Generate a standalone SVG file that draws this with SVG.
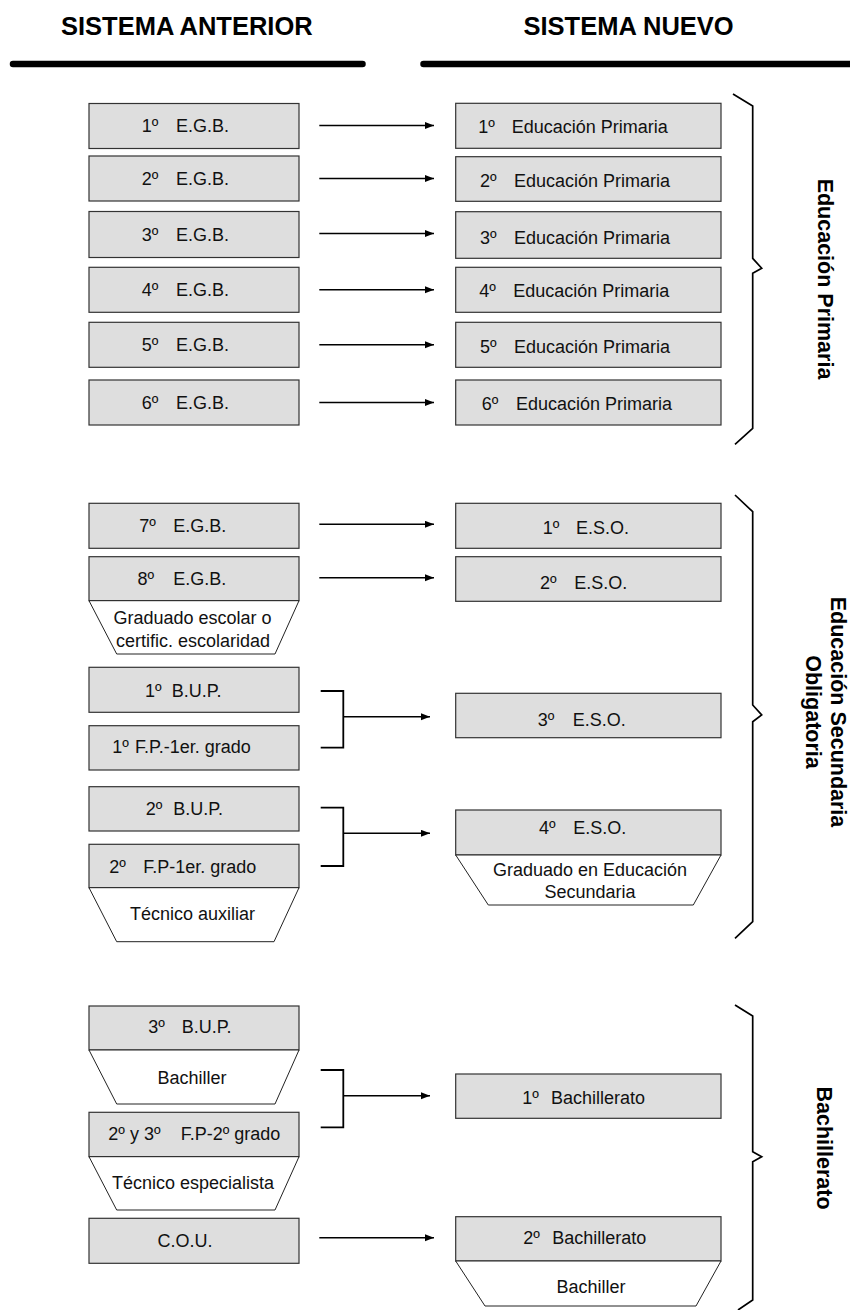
<svg xmlns="http://www.w3.org/2000/svg" width="850" height="1310" viewBox="0 0 850 1310">
<style>
.box{fill:#dedede;stroke:#333;stroke-width:1.2}
.trap{fill:#fff;stroke:#222;stroke-width:1}
text{font-family:"Liberation Sans",Arial,sans-serif;fill:#111}
.t{font-size:18px}
.c{text-anchor:middle}
.h{font-size:25.5px;font-weight:bold;fill:#000}
.v{font-size:21.5px;font-weight:bold;fill:#000;text-anchor:middle}
.conn{stroke:#000;stroke-width:1.5;fill:none}
.brk{stroke:#000;stroke-width:1.8;fill:none}
.brace{stroke:#000;stroke-width:1.7;fill:none;stroke-linejoin:miter}
.rule{stroke:#000;stroke-width:6.5;stroke-linecap:round}
</style>
<defs>
<marker id="ah" markerUnits="userSpaceOnUse" markerWidth="10" markerHeight="8" refX="9" refY="3.5" orient="auto">
<path d="M0,0 L9,3.5 L0,7 z" fill="#000"/>
</marker>
</defs>

<g id="headers">
<text class="h" x="61" y="35">SISTEMA ANTERIOR</text>
<text class="h" x="523.5" y="35">SISTEMA NUEVO</text>
<line class="rule" x1="13" y1="64" x2="362.5" y2="64"/>
<line class="rule" x1="423.5" y1="64" x2="856" y2="64"/>
</g>

<!-- Left column -->
<g id="egb1"><rect class="box" x="89" y="103.5" width="210" height="45"/><text class="t" y="131.5"><tspan x="141.7">1º</tspan><tspan x="176">E.G.B.</tspan></text></g>
<g id="egb2"><rect class="box" x="89" y="156" width="210" height="45"/><text class="t" y="185"><tspan x="141.7">2º</tspan><tspan x="176">E.G.B.</tspan></text></g>
<g id="egb3"><rect class="box" x="89" y="211.5" width="210" height="46"/><text class="t" y="240.5"><tspan x="141.7">3º</tspan><tspan x="176">E.G.B.</tspan></text></g>
<g id="egb4"><rect class="box" x="89" y="267.3" width="210" height="45"/><text class="t" y="296"><tspan x="141.7">4º</tspan><tspan x="176">E.G.B.</tspan></text></g>
<g id="egb5"><rect class="box" x="89" y="322.3" width="210" height="45"/><text class="t" y="351"><tspan x="141.7">5º</tspan><tspan x="176">E.G.B.</tspan></text></g>
<g id="egb6"><rect class="box" x="89" y="380" width="210" height="45"/><text class="t" y="408.5"><tspan x="141.7">6º</tspan><tspan x="176">E.G.B.</tspan></text></g>
<g id="egb7"><rect class="box" x="89" y="503.3" width="210" height="45"/><text class="t" y="531.7"><tspan x="139.3">7º</tspan><tspan x="173.3">E.G.B.</tspan></text></g>
<g id="egb8"><rect class="box" x="89" y="556.7" width="210" height="44"/><text class="t" y="585"><tspan x="137.5">8º</tspan><tspan x="173.3">E.G.B.</tspan></text></g>
<g id="graduado-escolar"><polygon class="trap" points="89,600.7 299,600.7 275,654 116.7,654"/><text class="t c" x="192.5" y="624">Graduado escolar o</text><text class="t c" x="193" y="646.5">certific. escolaridad</text></g>
<g id="bup1"><rect class="box" x="89" y="667.3" width="210" height="45"/><text class="t" y="696.5"><tspan x="145">1º</tspan><tspan x="171.7">B.U.P.</tspan></text></g>
<g id="fp1"><rect class="box" x="89" y="725.7" width="210" height="44.3"/><text class="t" y="753"><tspan x="112.3">1º</tspan><tspan x="135">F.P.-1er. grado</tspan></text></g>
<g id="bup2"><rect class="box" x="89" y="786.7" width="210" height="44.3"/><text class="t" y="815"><tspan x="145.7">2º</tspan><tspan x="173.3">B.U.P.</tspan></text></g>
<g id="fp2"><rect class="box" x="89" y="844.3" width="210" height="43.4"/><text class="t" y="872.5"><tspan x="109.3">2º</tspan><tspan x="143.3">F.P-1er. grado</tspan></text></g>
<g id="tecnico-auxiliar"><polygon class="trap" points="89,887.7 299,887.7 274,941.7 116.7,941.7"/><text class="t c" x="192.5" y="919.5">Técnico auxiliar</text></g>
<g id="bup3"><rect class="box" x="89" y="1006" width="210" height="44"/><text class="t" y="1033.3"><tspan x="148.3">3º</tspan><tspan x="181.7">B.U.P.</tspan></text></g>
<g id="bachiller-ant"><polygon class="trap" points="89,1050 299,1050 275,1104 116.7,1104"/><text class="t c" x="192" y="1083.5">Bachiller</text></g>
<g id="fp23"><rect class="box" x="89" y="1112.3" width="210" height="44.4"/><text class="t" y="1140"><tspan x="108.3">2º y 3º</tspan><tspan x="180.7">F.P-2º grado</tspan></text></g>
<g id="tecnico-especialista"><polygon class="trap" points="89,1156.7 299,1156.7 275,1210 116.7,1210"/><text class="t c" x="193" y="1188.5">Técnico especialista</text></g>
<g id="cou"><rect class="box" x="89" y="1218.3" width="210" height="45"/><text class="t c" x="185" y="1246.5">C.O.U.</text></g>

<!-- Right column -->
<g id="ep1"><rect class="box" x="455.7" y="103.3" width="265.3" height="45"/><text class="t" y="132.7"><tspan x="478.3">1º</tspan><tspan x="511.7">Educación Primaria</tspan></text></g>
<g id="ep2"><rect class="box" x="455.7" y="156.7" width="265.3" height="44.6"/><text class="t" y="186.5"><tspan x="480">2º</tspan><tspan x="514">Educación Primaria</tspan></text></g>
<g id="ep3"><rect class="box" x="455.7" y="211.7" width="265.3" height="46.6"/><text class="t" y="243.5"><tspan x="480">3º</tspan><tspan x="514">Educación Primaria</tspan></text></g>
<g id="ep4"><rect class="box" x="455.7" y="267.3" width="265.3" height="45"/><text class="t" y="297.3"><tspan x="479.3">4º</tspan><tspan x="513.3">Educación Primaria</tspan></text></g>
<g id="ep5"><rect class="box" x="455.7" y="322.3" width="265.3" height="45"/><text class="t" y="353.3"><tspan x="480">5º</tspan><tspan x="514">Educación Primaria</tspan></text></g>
<g id="ep6"><rect class="box" x="455.7" y="380" width="265.3" height="45"/><text class="t" y="410"><tspan x="481.7">6º</tspan><tspan x="516">Educación Primaria</tspan></text></g>
<g id="eso1"><rect class="box" x="455.7" y="503.3" width="265.3" height="45"/><text class="t" y="534"><tspan x="542.7">1º</tspan><tspan x="576">E.S.O.</tspan></text></g>
<g id="eso2"><rect class="box" x="455.7" y="556.7" width="265.3" height="44.6"/><text class="t" y="589"><tspan x="540">2º</tspan><tspan x="574.3">E.S.O.</tspan></text></g>
<g id="eso3"><rect class="box" x="455.7" y="693.3" width="265.3" height="44.4"/><text class="t" y="726"><tspan x="537.7">3º</tspan><tspan x="572.7">E.S.O.</tspan></text></g>
<g id="eso4"><rect class="box" x="455.7" y="810" width="265.3" height="45"/><text class="t" y="834"><tspan x="539">4º</tspan><tspan x="573.3">E.S.O.</tspan></text></g>
<g id="graduado-secundaria"><polygon class="trap" points="455.7,855 721,855 693.3,905 488.3,905"/><text class="t c" x="590" y="876">Graduado en Educación</text><text class="t c" x="590" y="897.5">Secundaria</text></g>
<g id="bach1"><rect class="box" x="455.7" y="1074" width="265.3" height="44.3"/><text class="t" y="1103.5"><tspan x="522.3">1º</tspan><tspan x="551">Bachillerato</tspan></text></g>
<g id="bach2"><rect class="box" x="455.7" y="1216.7" width="265.3" height="44.3"/><text class="t" y="1243.5"><tspan x="523.3">2º</tspan><tspan x="552.3">Bachillerato</tspan></text></g>
<g id="bachiller-nuevo"><polygon class="trap" points="455.7,1261 721,1261 696,1306 485,1306"/><text class="t c" x="591" y="1293">Bachiller</text></g>

<!-- Braces and labels -->
<g id="brace-primaria"><path class="brace" d="M733,94 L752.7,106 L752.7,258.3 L761.7,268.3 L752.7,273.3 L752.7,428.3 L735,444.3"/><text class="v" transform="translate(818,279) rotate(90)">Educación Primaria</text></g>
<g id="brace-eso"><path class="brace" d="M735,495 L752.7,511.7 L752.7,705 L761.7,715 L752.7,721.7 L752.7,921.7 L735,938.3"/><text class="v" transform="translate(830.5,712) rotate(90)"><tspan x="0" y="0">Educación Secundaria</tspan><tspan x="0" y="24.5">Obligatoria</tspan></text></g>
<g id="brace-bach"><path class="brace" d="M735,1005 L752.7,1016 L752.7,1151.7 L761.7,1156.7 L752.7,1161.7 L752.7,1300 L738,1310"/><text class="v" transform="translate(817,1148) rotate(90)">Bachillerato</text></g>

<g id="connectors">
<line class="conn" x1="319.3" y1="125.5" x2="434" y2="125.5" marker-end="url(#ah)"/>
<line class="conn" x1="319.3" y1="178.5" x2="434" y2="178.5" marker-end="url(#ah)"/>
<line class="conn" x1="319.3" y1="233.5" x2="434" y2="233.5" marker-end="url(#ah)"/>
<line class="conn" x1="319.3" y1="289.8" x2="434" y2="289.8" marker-end="url(#ah)"/>
<line class="conn" x1="319.3" y1="344.8" x2="434" y2="344.8" marker-end="url(#ah)"/>
<line class="conn" x1="319.3" y1="402.5" x2="434" y2="402.5" marker-end="url(#ah)"/>
<line class="conn" x1="319.3" y1="524.3" x2="434" y2="524.3" marker-end="url(#ah)"/>
<line class="conn" x1="319.3" y1="577.7" x2="434" y2="577.7" marker-end="url(#ah)"/>
<path class="brk" d="M320.7,691 H343.3 V747.7 H320.7"/>
<line class="conn" x1="343.3" y1="716.7" x2="430" y2="716.7" marker-end="url(#ah)"/>
<path class="brk" d="M320.7,807.7 H343.3 V866 H320.7"/>
<line class="conn" x1="343.3" y1="833.3" x2="430" y2="833.3" marker-end="url(#ah)"/>
<path class="brk" d="M320.7,1070 H343.3 V1127.3 H320.7"/>
<line class="conn" x1="343.3" y1="1095.7" x2="430" y2="1095.7" marker-end="url(#ah)"/>
<line class="conn" x1="319.3" y1="1237.7" x2="434" y2="1237.7" marker-end="url(#ah)"/>
</g>
</svg>
